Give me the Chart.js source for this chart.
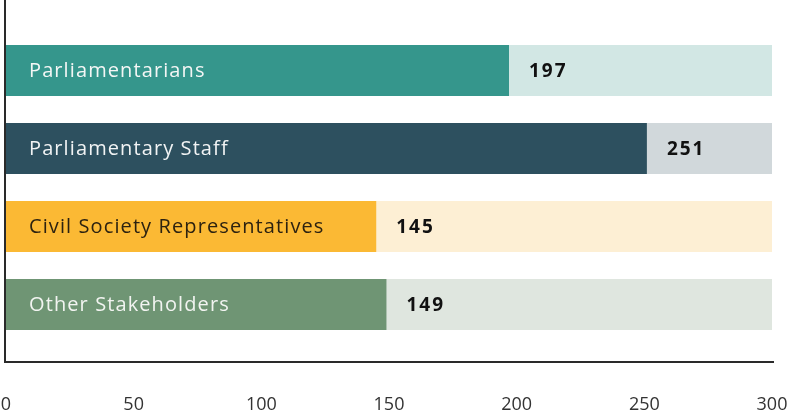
<!DOCTYPE html>
<html>
<head>
<meta charset="utf-8">
<script src="https://cdn.jsdelivr.net/npm/chart.js@4"></script>
<style>
  html, body { margin: 0; padding: 0; background: #ffffff; }
  #wrap { width: 789px; height: 418px; }
</style>
</head>
<body>
<div id="wrap"><canvas id="c" width="789" height="418"></canvas></div>
<script>
// data
const categories = ['Parliamentarians', 'Parliamentary Staff', 'Civil Society Representatives', 'Other Stakeholders'];
const values = [197, 251, 145, 149];
const trackValues = [300, 300, 300, 300];
const xTicks = [0, 50, 100, 150, 200, 250, 300];

const barColors = ['#35968c', '#2d505f', '#fbb934', '#6f9574'];
const trackColors = ['#d2e7e4', '#d1d8db', '#fdefd4', '#dfe6df'];
const nameColors = ['#f4f6f5', '#f1f3f4', '#2c2210', '#f2f4f1'];

// axis frame + text inside / after the bars
const barText = {
    id: 'barText',
    afterDatasetsDraw(chart) {
        const ctx = chart.ctx;
        const area = chart.chartArea;
        const meta = chart.getDatasetMeta(0);

        ctx.save();
        ctx.strokeStyle = '#2a2a2a';
        ctx.lineWidth = 2;
        ctx.beginPath();
        ctx.moveTo(area.left - 1, 0);
        ctx.lineTo(area.left - 1, area.bottom + 18.5);
        ctx.lineTo(area.right + 2, area.bottom + 18.5);
        ctx.stroke();

        ctx.textBaseline = 'middle';
        meta.data.forEach((bar, i) => {
            ctx.font = '20px "Open Sans"';
            ctx.letterSpacing = '1.1px';
            ctx.fillStyle = nameColors[i];
            ctx.textAlign = 'left';
            ctx.fillText(categories[i], area.left + 23, bar.y + 1);

            ctx.font = 'bold 19px "Open Sans"';
            ctx.letterSpacing = '2px';
            ctx.fillStyle = '#111111';
            ctx.fillText(values[i], bar.x + 20, bar.y + 1);
        });
        ctx.restore();
    }
};

new Chart(document.getElementById('c'), {
    type: 'bar',
    data: {
        labels: categories,
        datasets: [
            {
                label: 'Value',
                data: values,
                backgroundColor: barColors,
                grouped: false,
                order: 0,
                borderWidth: 0,
                barPercentage: 0.654,
                categoryPercentage: 1
            },
            {
                label: 'Track',
                data: trackValues,
                backgroundColor: trackColors,
                grouped: false,
                order: 1,
                borderWidth: 0,
                barPercentage: 0.654,
                categoryPercentage: 1
            }
        ]
    },
    options: {
        indexAxis: 'y',
        responsive: false,
        animation: false,
        layout: { padding: { top: 31.5, left: 6, right: 17, bottom: 0 } },
        plugins: {
            legend: { display: false },
            tooltip: { enabled: false }
        },
        scales: {
            x: {
                min: 0,
                max: 300,
                afterBuildTicks: axis => { axis.ticks = xTicks.map(v => ({ value: v })); },
                afterFit: axis => {
                    axis.paddingLeft = 0;
                    axis.paddingRight = 0;
                    axis.height = 74.5;
                },
                grid: { display: false, drawTicks: false },
                border: { display: false },
                ticks: {
                    padding: 51,
                    color: '#333333',
                    font: { family: 'Open Sans', size: 18 },
                    maxRotation: 0
                }
            },
            y: {
                display: false,
                grid: { display: false }
            }
        }
    },
    plugins: [barText]
});
</script>
</body>
</html>
